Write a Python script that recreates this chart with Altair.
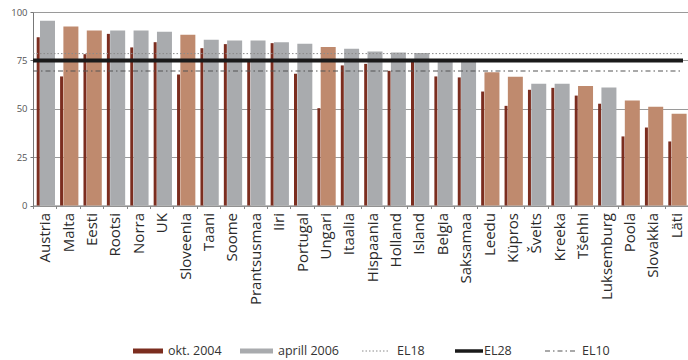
import altair as alt
import pandas as pd

countries = ["Austria", "Malta", "Eesti", "Rootsi", "Norra", "UK", "Sloveenia", "Taani",
             "Soome", "Prantsusmaa", "Iiri", "Portugal", "Ungari", "Itaalia", "Hispaania",
             "Holland", "Island", "Belgia", "Saksamaa", "Leedu", "Küpros", "Šveits",
             "Kreeka", "Tšehhi", "Luksemburg", "Poola", "Slovakkia", "Läti"]
okt_2004 = [87.0, 66.7, 78.2, 88.7, 81.7, 84.4, 67.7, 81.3, 83.4, 74.8, 83.9, 68.1, 50.3,
            72.4, 73.2, 69.6, 75.3, 66.7, 66.2, 58.9, 51.5, 59.8, 60.8, 56.8, 52.6, 35.7,
            40.3, 33.1]
aprill_2006 = [95.5, 92.5, 90.4, 90.4, 90.4, 89.8, 88.2, 85.6, 85.3, 85.3, 84.4, 83.6, 81.9,
               81.0, 79.6, 79.1, 78.8, 75.5, 74.5, 68.9, 66.5, 62.9, 62.9, 61.7, 61.0, 54.3,
               51.0, 47.4]
new_member = [False, True, True, False, False, False, True, False, False, False, False, False,
              True, False, False, False, False, False, False, True, True, False, False, True,
              False, True, True, True]
ref_names = ["EL18", "EL28", "EL10"]
ref_values = [78.5, 75.0, 69.5]
legend_labels = ["okt. 2004", "aprill 2006", "EL18", "EL28", "EL10"]

DARK = "#7b2d1f"
BROWN = "#bf8a6e"
GRAY = "#a9abae"

df = pd.DataFrame({
    "country": countries,
    "okt": okt_2004,
    "apr": aprill_2006,
    "group": ["uus" if n else "vana" for n in new_member],
})
ref_df = pd.DataFrame({"name": ref_names, "value": ref_values})

W, H = 655, 193.5

x_enc = alt.X(
    "country:N", sort=countries, title=None,
    scale=alt.Scale(paddingInner=0, paddingOuter=0),
    axis=alt.Axis(labelAngle=-90, labelFont="Open Sans", labelFontSize=15,
                  labelColor="#2a2a2a", labelPadding=4, tickBand="extent",
                  tickSize=3, tickColor="#888888", domainColor="#888888",
                  labelOverlap=False),
)
y_scale = alt.Scale(domain=[0, 100], nice=False)
y_axis = alt.Axis(values=[0, 25, 50, 75, 100], grid=True, gridColor="#9a9a9a",
                  gridWidth=1, title=None, labelFont="Open Sans", labelFontSize=9.5,
                  labelColor="#555555", tickSize=3, tickColor="#777777",
                  domainColor="#777777", labelPadding=3)

thin = alt.Chart(df).mark_bar(size=3, xOffset=-6.5, color=DARK).encode(
    x=x_enc,
    y=alt.Y("okt:Q", scale=y_scale, axis=y_axis),
)
wide = alt.Chart(df).mark_bar(size=15, xOffset=2.8).encode(
    x=x_enc,
    y=alt.Y("apr:Q", scale=y_scale, title=None),
    color=alt.Color("group:N", scale=alt.Scale(domain=["uus", "vana"], range=[BROWN, GRAY]),
                    legend=None),
)

styles = {
    "EL18": dict(color="#8a8a8a", strokeWidth=1, strokeDash=[1.5, 2]),
    "EL28": dict(color="#1a1a1a", strokeWidth=4),
    "EL10": dict(color="#555555", strokeWidth=1.2, strokeDash=[5, 3, 1.5, 3]),
}
ref_layers = []
for name in ref_names:
    ref_layers.append(
        alt.Chart(ref_df).transform_filter(alt.datum.name == name)
        .mark_rule(**styles[name])
        .encode(y=alt.Y("value:Q", scale=y_scale, title=None),
                x=alt.value(0), x2=alt.value(650))
    )

# manual legend (layout positions, relative to plot origin)
LY = 339
swatches = [
    (100, 130, dict(color=DARK, strokeWidth=5)),
    (207, 240, dict(color=GRAY, strokeWidth=5)),
    (329, 357, dict(color="#8a8a8a", strokeWidth=1, strokeDash=[1.5, 2])),
    (422, 450, dict(color="#1a1a1a", strokeWidth=3.5)),
    (512, 544, dict(color="#555555", strokeWidth=1.2, strokeDash=[5, 3, 1.5, 3])),
]
text_x = [135, 245, 364, 451, 549]
legend_layers = []
for lab, (x1, x2, st), tx in zip(legend_labels, swatches, text_x):
    ldf = pd.DataFrame({"label": [lab]})
    legend_layers.append(
        alt.Chart(ldf).mark_rule(**st).encode(
            x=alt.value(x1), x2=alt.value(x2), y=alt.value(LY))
    )
    legend_layers.append(
        alt.Chart(ldf).mark_text(align="left", baseline="middle", font="Open Sans",
                                 fontSize=12.5, color="#333333").encode(
            x=alt.value(tx), y=alt.value(LY), text="label:N")
    )

chart = alt.layer(thin, wide, *ref_layers, *legend_layers).resolve_scale(
    y="shared"
).properties(
    width=W, height=H,
    autosize=alt.AutoSizeParams(type="none"),
    padding={"left": 33, "top": 12, "right": 0, "bottom": 360 - 12 - H},
).configure_view(stroke=None).configure(background="white")

chart.save("out.html", embed_options={"renderer": "svg", "actions": False})
